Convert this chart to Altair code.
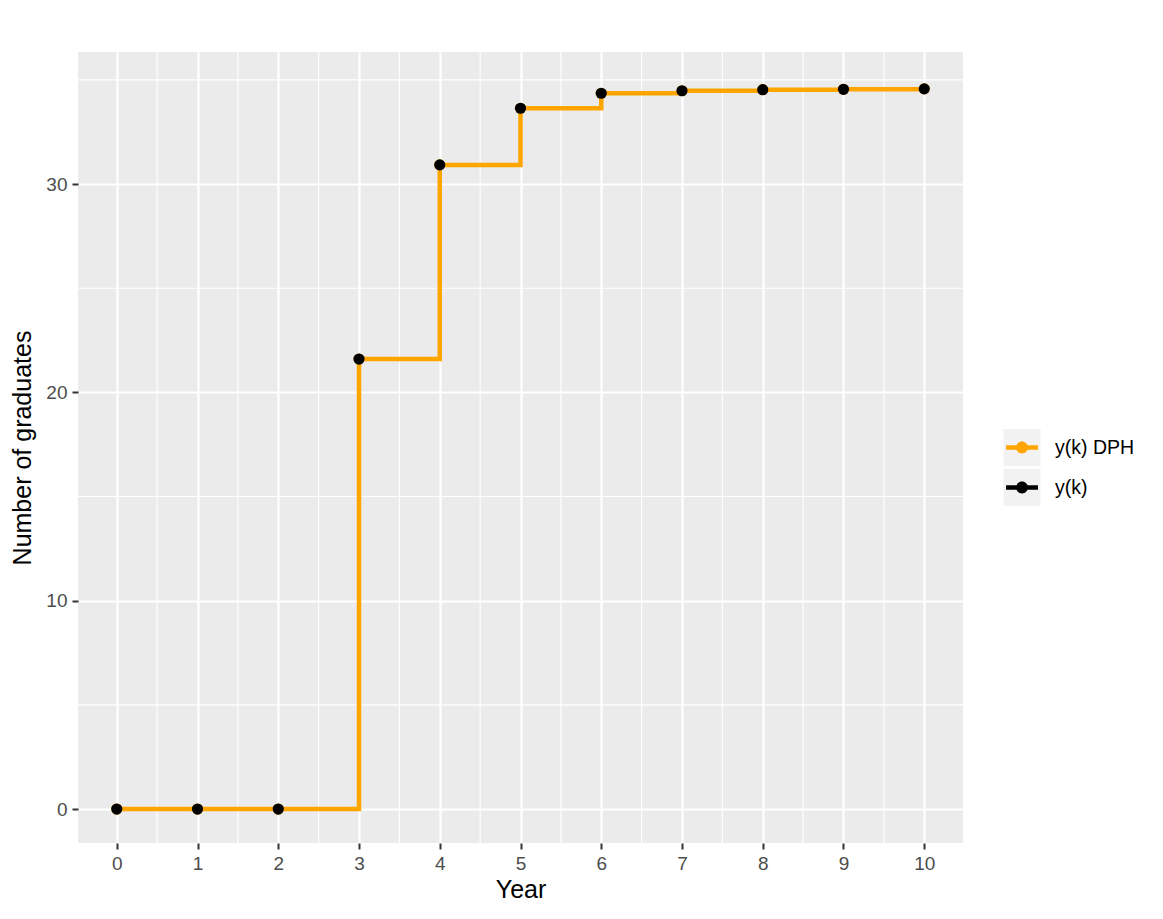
import altair as alt
import pandas as pd

years = [0, 1, 2, 3, 4, 5, 6, 7, 8, 9, 10]
y_k_dph = [0.0, 0.0, 0.0, 21.6, 30.92, 33.64, 34.36, 34.48, 34.53, 34.55, 34.57]
y_k = [0.0, 0.0, 0.0, 21.6, 30.92, 33.64, 34.36, 34.48, 34.53, 34.55, 34.57]
series_names = ["y(k) DPH", "y(k)"]
series_colors = ["#FFA500", "#000000"]
x_ticks = [0, 1, 2, 3, 4, 5, 6, 7, 8, 9, 10]
y_ticks = [0, 10, 20, 30]
minor_x = [0.5, 1.5, 2.5, 3.5, 4.5, 5.5, 6.5, 7.5, 8.5, 9.5]
minor_y = [5, 15, 25, 35]

df = pd.concat([
    pd.DataFrame({"Year": years, "value": y_k_dph, "series": series_names[0]}),
    pd.DataFrame({"Year": years, "value": y_k, "series": series_names[1]}),
], ignore_index=True)
keys_df = pd.DataFrame({"series": series_names})

xscale = alt.Scale(domain=[-0.48, 10.48], nice=False, zero=False)
yscale = alt.Scale(domain=[-1.63, 36.34], nice=False, zero=False)
cscale = alt.Scale(domain=series_names, range=series_colors)

xaxis = alt.Axis(values=x_ticks, title="Year", format="d")
yaxis = alt.Axis(values=y_ticks, title="Number of graduates", format="d")

X = alt.X("Year:Q", scale=xscale, axis=xaxis)
Y = alt.Y("value:Q", scale=yscale, axis=yaxis)

base = alt.Chart(df)

minor_x_layer = alt.Chart(pd.DataFrame({"m": minor_x})).mark_rule(
    color="white", strokeWidth=1.1
).encode(x=alt.X("m:Q", scale=xscale, axis=xaxis))

minor_y_layer = alt.Chart(pd.DataFrame({"m": minor_y})).mark_rule(
    color="white", strokeWidth=1.1
).encode(y=alt.Y("m:Q", scale=yscale, axis=yaxis))

orange_line = base.transform_filter(alt.datum.series == "y(k) DPH").mark_line(
    interpolate="step-after", strokeWidth=4.5
).encode(x=X, y=Y, stroke=alt.Stroke("series:N", scale=cscale, legend=None))

orange_pts = base.transform_filter(alt.datum.series == "y(k) DPH").mark_circle(
    size=125, opacity=1
).encode(x=X, y=Y, fill=alt.Fill("series:N", scale=cscale, legend=None))

black_pts = base.transform_filter(alt.datum.series == "y(k)").mark_circle(
    size=125, opacity=1
).encode(x=X, y=Y, fill=alt.Fill("series:N", scale=cscale, legend=None))

plot = alt.layer(minor_x_layer, minor_y_layer, orange_line, orange_pts, black_pts)

# legend drawn from the series names
key_y = alt.Y(
    "series:N",
    scale=alt.Scale(type="point", domain=series_names, range=[395.5, 435.5], padding=0),
    axis=None,
)
key_x = alt.value(944)

key_bg = alt.Chart(keys_df).mark_square(size=1369, color="#F2F2F2", opacity=1).encode(
    x=key_x, y=key_y
)
key_sym = alt.Chart(keys_df).mark_point(
    shape="M-0.84,-0.115H0.84V0.115H-0.84Z M-0.31,0A0.31,0.31 0 1,1 0.31,0A0.31,0.31 0 1,1 -0.31,0Z",
    filled=True, size=1444, opacity=1, strokeWidth=0,
).encode(x=key_x, y=key_y, fill=alt.Fill("series:N", scale=cscale, legend=None))
key_txt = alt.Chart(keys_df).mark_text(
    align="left", baseline="middle", dx=33, fontSize=19.5, font="Liberation Sans", color="black"
).encode(x=key_x, y=key_y, text="series:N")

legend = alt.layer(key_bg, key_sym, key_txt)

chart = alt.layer(plot, legend).resolve_scale(y="independent").properties(
    width=885, height=791,
    autosize=alt.AutoSizeParams(type="none"),
    padding={"left": 70, "top": 44, "right": 190, "bottom": 66},
    background="white",
).configure_view(
    fill="#EBEBEB", stroke=None
).configure_axis(
    grid=True, gridColor="white", gridWidth=2.2, domain=False,
    tickColor="#333333", tickSize=6, tickWidth=2,
    labelColor="#4D4D4D", labelFontSize=19, labelFont="Liberation Sans",
    titleColor="black", titleFontSize=25, titleFont="Liberation Sans", titleFontWeight="normal",
    labelPadding=5,
).configure_axisX(
    titlePadding=4,
).configure_axisY(
    titlePadding=10,
)

chart.save("out.html", embed_options={"renderer": "svg", "actions": False})
